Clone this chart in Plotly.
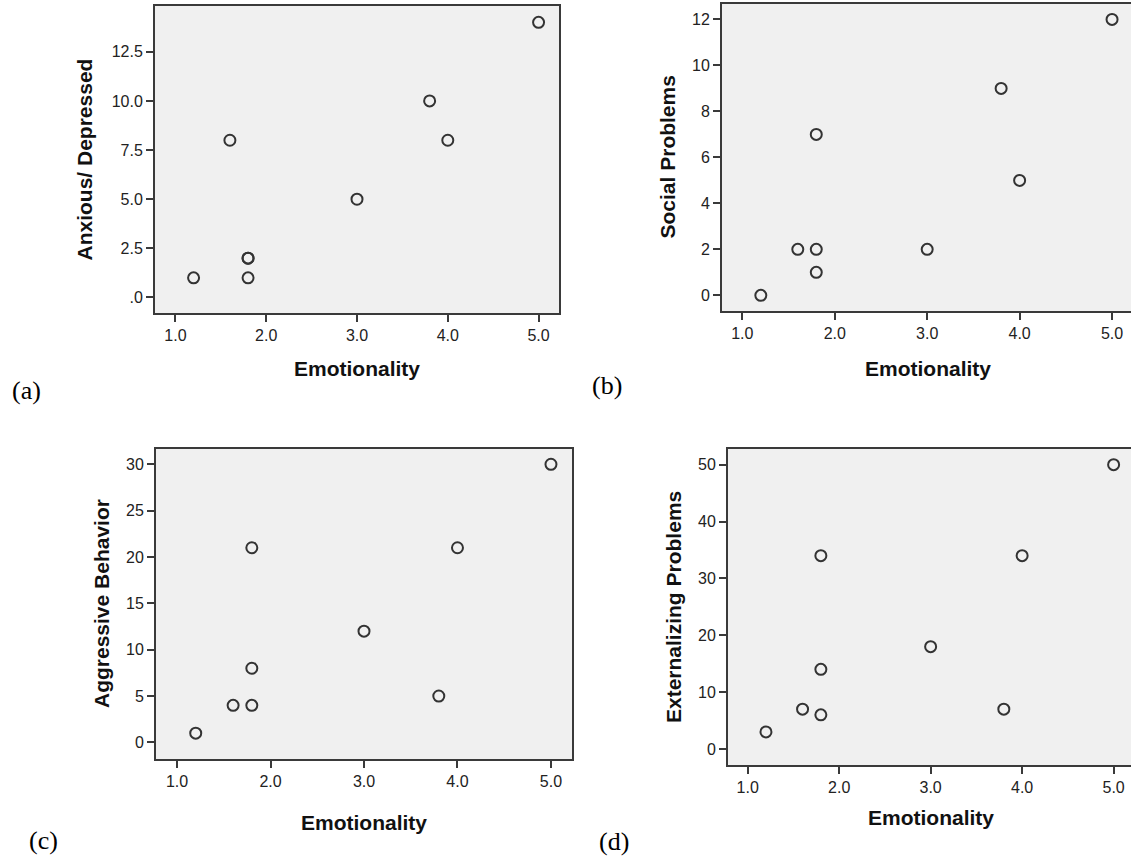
import plotly.graph_objects as go

# ---- data ----
emotionality = [1.2, 1.6, 1.8, 1.8, 1.8, 3.0, 3.8, 4.0, 5.0]
anxious_depressed = [1, 8, 2, 2, 1, 5, 10, 8, 14]
social_problems = [0, 2, 2, 1, 7, 2, 9, 5, 12]
aggressive_behavior = [1, 4, 4, 8, 21, 12, 5, 21, 30]
externalizing_problems = [3, 7, 6, 14, 34, 18, 7, 34, 50]

x_ticks = [1.0, 2.0, 3.0, 4.0, 5.0]
x_ticktext = ["1.0", "2.0", "3.0", "4.0", "5.0"]
a_ticks = [0, 2.5, 5.0, 7.5, 10.0, 12.5]
a_ticktext = [".0", "2.5", "5.0", "7.5", "10.0", "12.5"]
b_ticks = [0, 2, 4, 6, 8, 10, 12]
c_ticks = [0, 5, 10, 15, 20, 25, 30]
d_ticks = [0, 10, 20, 30, 40, 50]

x_title = "Emotionality"
y_titles = ["Anxious/ Depressed", "Social Problems", "Aggressive Behavior", "Externalizing Problems"]
panel_labels = ["(a)", "(b)", "(c)", "(d)"]

W, H = 1131, 862
# panel boxes in pixels: (left, right, top, bottom)
boxes = [(155, 559, 6, 313), (722, 1131, 4, 311), (156, 572, 449, 759), (728, 1131, 449, 765)]
x_ranges = [[0.775, 5.225], [0.78, 5.205], [0.775, 5.225], [0.785, 5.19]]
y_ranges = [[-0.79, 14.83], [-0.68, 12.67], [-1.79, 31.65], [-2.82, 52.76]]
y_series = [anxious_depressed, social_problems, aggressive_behavior, externalizing_problems]
y_tickvals = [a_ticks, b_ticks, c_ticks, d_ticks]
y_ticktexts = [a_ticktext, [str(v) for v in b_ticks], [str(v) for v in c_ticks], [str(v) for v in d_ticks]]
right_border = [True, False, True, False]

label_pos = [(26, 390), (607, 386), (43, 840), (614, 841)]

AX = "#3a3a3a"
TICKFONT = dict(family="Arial, Liberation Sans, sans-serif", size=16, color="#222")
TITLEFONT_X = dict(family="Arial, Liberation Sans, sans-serif", size=21, color="#111")
TITLEFONT_Y = dict(family="Arial, Liberation Sans, sans-serif", size=21, color="#111")

fig = go.Figure()
layout = dict(width=W, height=H, margin=dict(l=0, r=0, t=0, b=0),
              paper_bgcolor="white", plot_bgcolor="#f0f0f0", showlegend=False)
annotations = []

for i in range(4):
    n = "" if i == 0 else str(i + 1)
    l, r, t, b = boxes[i]
    xd = [l / W, min(r / W, 1.0)]
    yd = [1 - b / H, 1 - t / H]
    fig.add_trace(go.Scatter(
        x=emotionality, y=y_series[i], mode="markers",
        xaxis="x" + n, yaxis="y" + n,
        marker=dict(symbol="circle-open", size=11, color="#333", line=dict(width=2, color="#333")),
        cliponaxis=False,
    ))
    layout["xaxis" + n] = dict(
        domain=xd, range=x_ranges[i], anchor="y" + n,
        tickvals=x_ticks, ticktext=x_ticktext, ticks="outside", ticklen=7, tickwidth=1.5, tickcolor=AX,
        showline=True, linecolor=AX, linewidth=2, mirror=True,
        showgrid=False, zeroline=False, tickfont=TICKFONT, ticklabelstandoff=0,
    )
    layout["yaxis" + n] = dict(
        domain=yd, range=y_ranges[i], anchor="x" + n,
        tickvals=y_tickvals[i], ticktext=y_ticktexts[i], ticks="outside", ticklen=7, tickwidth=1.5, tickcolor=AX,
        showline=True, linecolor=AX, linewidth=2, mirror=right_border[i],
        showgrid=False, zeroline=False, tickfont=TICKFONT, ticklabelstandoff=0,
    )
    # x title
    cx = (l + min(r, W)) / 2 if i in (0, 2) else (l + r + 3) / 2
    xt_y = 368 if i < 2 else (822 if i == 2 else 817)
    annotations.append(dict(text="<b>" + x_title + "</b>", xref="paper", yref="paper",
                            x=cx / W, y=1 - xt_y / H, xanchor="center", yanchor="middle",
                            showarrow=False, font=TITLEFONT_X))
    # y title
    yt_x = [84, 667, 101, 673][i]
    annotations.append(dict(text="<b>" + y_titles[i] + "</b>", xref="paper", yref="paper",
                            x=yt_x / W, y=1 - ((t + b) / 2) / H, xanchor="center", yanchor="middle",
                            textangle=-90, showarrow=False, font=TITLEFONT_Y))
    # panel label
    px, py = label_pos[i]
    annotations.append(dict(text=panel_labels[i], xref="paper", yref="paper",
                            x=px / W, y=1 - py / H, xanchor="center", yanchor="middle",
                            showarrow=False,
                            font=dict(family="Times New Roman, Liberation Serif, serif", size=26, color="#000")))

layout["annotations"] = annotations
fig.update_layout(**layout)
fig.write_html(
    "out.html",
    config={"displayModeBar": False},
    post_script="document.body.style.margin='0';document.documentElement.style.overflow='hidden';",
)
